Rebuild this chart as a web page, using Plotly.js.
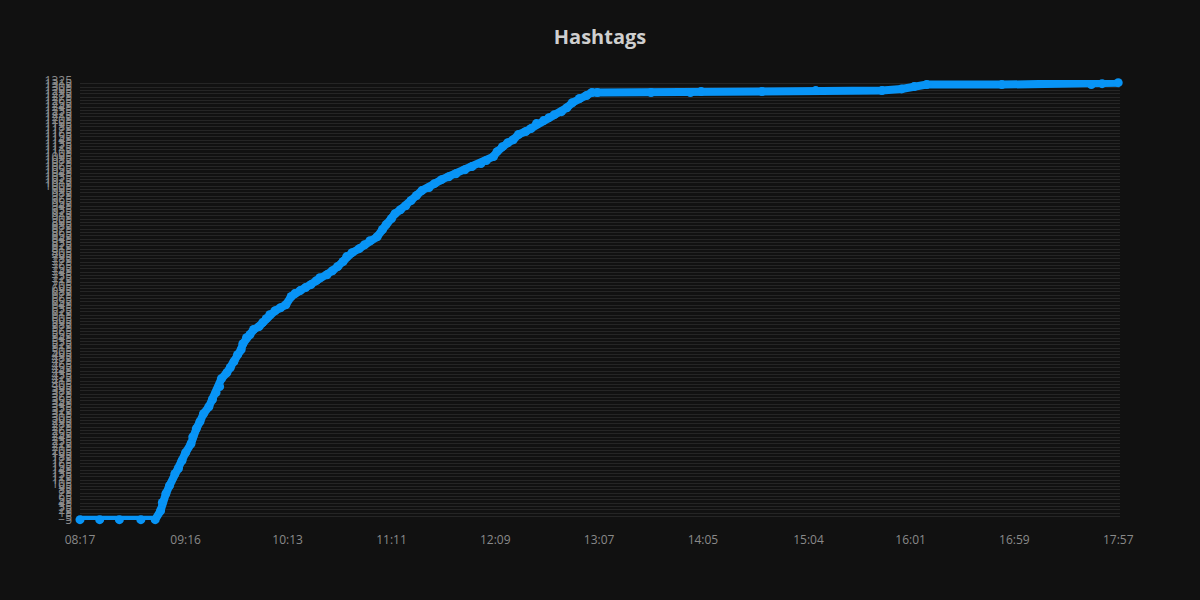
<!DOCTYPE html>
<html>
<head>
<meta charset="utf-8">
<script src="https://cdn.plot.ly/plotly-3.0.1.min.js"></script>
<style>
  html, body { margin: 0; padding: 0; background: #111111; }
  #chart { width: 1200px; height: 600px; }
</style>
</head>
<body>
<div id="chart"></div>
<script>
// Time of each observation (HH:MM) and cumulative hashtag count
const times = [
  "08:17","08:28","08:39","08:51","08:59","09:02","09:03","09:05","09:07","09:10",
  "09:12","09:14","09:16","09:19","09:20","09:22","09:24","09:26","09:29","09:31",
  "09:33","09:35","09:36","09:39","09:41","09:43","09:45","09:47","09:48","09:50",
  "09:52","09:54","09:57","09:59","10:01","10:03","10:06","10:09","10:12","10:15",
  "10:17","10:20","10:23","10:26","10:29","10:31","10:35","10:38","10:41","10:44",
  "10:46","10:49","10:53","10:56","10:59","11:03","11:06","11:08","11:11","11:13",
  "11:16","11:19","11:22","11:25","11:28","11:32","11:35","11:39","11:43","11:47",
  "11:52","11:56","12:01","12:04","12:08","12:10","12:13","12:16","12:19","12:22",
  "12:26","12:29","12:32","12:36","12:39","12:42","12:46","12:49","12:52","12:56",
  "13:00","13:03","13:06","13:36","13:58","14:04","14:38","15:08","15:45","15:56",
  "16:03","16:10","16:52","17:42","17:48","17:57"
];
const counts = [
  -5,-5,-5,-5,-5,22,47,74,98,134,
  150,174,198,225,246,271,292,316,337,359,
  380,398,422,440,456,474,495,510,528,546,
  556,571,580,592,604,616,628,637,646,671,
  680,689,698,707,719,728,737,749,762,777,
  792,804,816,828,840,852,874,889,907,922,
  934,946,962,977,992,1001,1013,1025,1034,1043,
  1055,1065,1074,1083,1095,1110,1125,1137,1146,1162,
  1171,1180,1195,1204,1213,1222,1231,1243,1258,1271,
  1280,1289,1289,1289,1289,1292,1292,1295,1295,1300,
  1307,1313,1313,1313,1316,1319
];
// x-axis tick labels
const xTickLabels = ["08:17","09:16","10:13","11:11","12:09","13:07","14:05","15:04","16:01","16:59","17:57"];
// y-axis tick settings
const yTickStart = -5;
const yTickStep = 10;
const yRange = [-6, 1327];

const day = "2024-01-01 ";
const x = times.map(t => day + t);
const xTickVals = xTickLabels.map(t => day + t);

const trace = {
  type: "scatter",
  mode: "lines+markers",
  x: x,
  y: counts,
  line: { color: "#0894f6", width: 8 },
  marker: { color: "#0894f6", size: 9 },
  cliponaxis: false,
  hoverinfo: "x+y"
};

const layout = {
  width: 1200,
  height: 600,
  paper_bgcolor: "#111111",
  plot_bgcolor: "#111111",
  margin: { l: 80, r: 80, t: 80, b: 80 },
  showlegend: false,
  title: {
    text: "<b>Hashtags</b>",
    font: { family: "Open Sans, sans-serif", size: 20, color: "#cfcfcf" },
    x: 0.5,
    xanchor: "center",
    y: 0.938,
    yanchor: "middle"
  },
  font: { family: "Open Sans, sans-serif", color: "#8a8a8a" },
  xaxis: {
    type: "date",
    range: [day + "08:17", day + "17:58"],
    tickmode: "array",
    tickvals: xTickVals,
    ticktext: xTickLabels,
    showgrid: false,
    zeroline: false,
    showline: false,
    ticklabelstandoff: 11,
    tickfont: { size: 12, color: "#8a8a8a" }
  },
  yaxis: {
    range: yRange,
    tickmode: "linear",
    tick0: yTickStart,
    dtick: yTickStep,
    showgrid: true,
    gridcolor: "#252525",
    gridwidth: 1,
    zeroline: false,
    showline: false,
    ticklabelstandoff: 7,
    tickfont: { size: 12, color: "#8a8a8a" }
  }
};

Plotly.newPlot("chart", [trace], layout, { displayModeBar: false });
</script>
</body>
</html>
